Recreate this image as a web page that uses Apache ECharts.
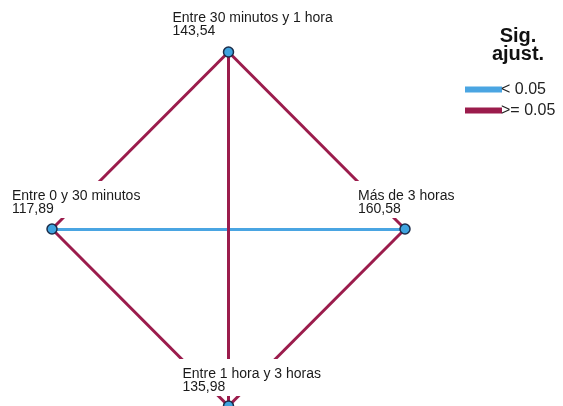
<!DOCTYPE html>
<html>
<head>
<meta charset="utf-8">
<script src="https://cdn.jsdelivr.net/npm/echarts@6/dist/echarts.min.js"></script>
<style>
  html, body { margin: 0; padding: 0; background: #fff; }
  #main { width: 563px; height: 406px; }
</style>
</head>
<body>
<div id="main"></div>
<script>
// data
var nodeNames = ['Entre 30 minutos y 1 hora', 'Entre 0 y 30 minutos', 'Más de 3 horas', 'Entre 1 hora y 3 horas'];
var nodeMeans = [143.54, 117.89, 160.58, 135.98];
// pairs of node indexes, and adjusted sig. class of each pair
var edges = [[1, 2], [0, 1], [0, 2], [0, 3], [1, 3], [2, 3]];
var edgeSig = ['< 0.05', '>= 0.05', '>= 0.05', '>= 0.05', '>= 0.05', '>= 0.05'];
var sigClasses = ['< 0.05', '>= 0.05'];

// diagram layout (diamond)
var layoutX = [0, -1, 1, 0];
var layoutY = [1, 0, 0, -1];
var labelOffsets = [[-60, -12], [-44, -11], [-51, -11], [-50, -10]];
var sigColors = { '< 0.05': '#4aa5e2', '>= 0.05': '#9b1c4c' };

var myChart = echarts.init(document.getElementById('main'));
var option;

function fmt(v) {
  return v.toFixed(2).replace('.', ',');
}

var edgeSeries = sigClasses.map(function (s, k) {
  var data = [];
  edges.forEach(function (e, i) {
    if (edgeSig[i] === s) {
      data.push({ coords: [[layoutX[e[0]], layoutY[e[0]]], [layoutX[e[1]], layoutY[e[1]]]] });
    }
  });
  return {
    name: s,
    type: 'lines',
    coordinateSystem: 'cartesian2d',
    z: 2 + k,
    silent: true,
    lineStyle: { color: sigColors[s], width: 3, opacity: 1 },
    data: data
  };
});

var nodeData = nodeNames.map(function (n, i) {
  return {
    name: n,
    value: [layoutX[i], layoutY[i]],
    mean: nodeMeans[i],
    label: { offset: labelOffsets[i] }
  };
});

option = {
  animation: false,
  backgroundColor: '#fff',
  grid: { left: 52, right: 158, top: 52, bottom: 0 },
  xAxis: { type: 'value', min: -1, max: 1, show: false },
  yAxis: { type: 'value', min: -1, max: 1, show: false },
  legend: {
    data: sigClasses.map(function (s) {
      return { name: s, icon: 'rect', itemStyle: { color: sigColors[s] } };
    }),
    orient: 'vertical',
    left: 460,
    top: 76,
    itemWidth: 35,
    itemHeight: 4,
    itemGap: 4,
    selectedMode: false,
    textStyle: { fontFamily: 'Liberation Sans', fontSize: 16, color: '#222', lineHeight: 17, padding: [0, 0, 0, -5] }
  },
  graphic: [{
    type: 'text',
    x: 518,
    y: 27,
    style: {
      text: 'Sig.\najust.',
      align: 'center',
      font: 'bold 20px "Liberation Sans"',
      lineHeight: 18,
      fill: '#111'
    }
  }],
  series: edgeSeries.concat([{
    type: 'scatter',
    z: 5,
    clip: false,
    symbol: 'circle',
    symbolSize: 10,
    itemStyle: { color: '#3fa3df', borderColor: '#1c2d4a', borderWidth: 1.5, opacity: 1 },
    label: {
      show: true,
      position: 'inside',
      align: 'left',
      verticalAlign: 'bottom',
      fontFamily: 'Liberation Sans',
      fontSize: 14,
      lineHeight: 13,
      color: '#1a1a1a',
      backgroundColor: '#fff',
      padding: [9, 4, 2, 4],
      formatter: function (p) {
        return p.data.name + '\n' + fmt(p.data.mean);
      }
    },
    data: nodeData
  }])
};

option && myChart.setOption(option);
</script>
</body>
</html>
